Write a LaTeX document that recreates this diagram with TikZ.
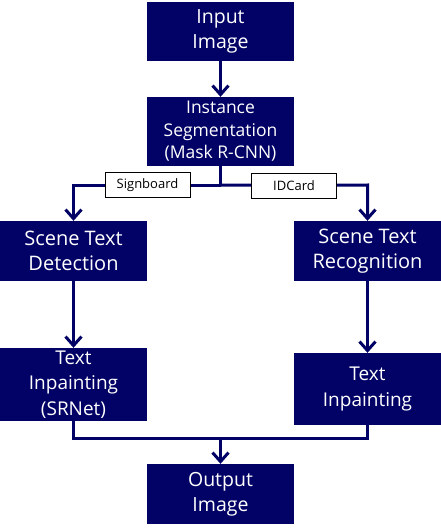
\documentclass[tikz,border=0pt]{standalone}
\usepackage{fontspec}
\setmainfont{Open Sans}
\usetikzlibrary{arrows.meta}
\definecolor{boxnavy}{RGB}{2,2,102}

\begin{document}
\begin{tikzpicture}[x=1pt, y=-1pt]
    \tikzstyle{stage} = [rectangle, minimum width=147pt, minimum height=60pt, inner sep=0pt, align=center, fill=boxnavy, text=white, font=\fontsize{19.5}{25}\selectfont]
    \tikzstyle{tag} = [rectangle, minimum width=85pt, minimum height=25pt, inner sep=0pt, draw=black, line width=1pt, fill=white, font=\fontsize{13}{15}\selectfont]
    \tikzstyle{link} = [draw=boxnavy, line width=3pt]
    \tikzstyle{flow} = [link, -{Straight Barb[length=9pt, width=16pt, line width=3pt]}]
    \useasboundingbox (0,0) rectangle (441,532);

    % Pipeline stages
    \node [stage, minimum height=59pt] (input) at (220.5,31.5) {Input\\Image};
    \node [stage, minimum height=69pt, font=\fontsize{17.5}{22.5}\selectfont] (seg) at (220.5,131.5) {Instance\\Segmentation\\(Mask R-CNN)};
    \node [stage, font=\fontsize{20}{25}\selectfont] (detect) at (73.5,251) {Scene Text\\Detection};
    \node [stage, font=\fontsize{20}{25}\selectfont] (recog) at (367.5,251) {Scene Text\\Recognition};
    \node [stage, minimum height=73pt, font=\fontsize{19}{25.5}\selectfont] (inpaintl) at (73.5,384.5) {Text\\Inpainting\\(SRNet)};
    \node [stage, minimum height=72pt, font=\fontsize{19}{25.5}\selectfont] (inpaintr) at (367.5,389) {Text\\Inpainting};
    \node [stage] (output) at (220.5,494) {Output\\Image};

    % Class labels
    \node [tag] (sign) at (147.5,185) {Signboard};
    \node [tag] (idcard) at (294,185.5) {IDCard};

    % Junctions
    \coordinate (split) at (220.5,185);
    \coordinate (turnl) at (73.5,185);
    \coordinate (turnr) at (367.5,185);
    \coordinate (mergel) at (73.5,438);
    \coordinate (merger) at (367.5,438);
    \coordinate (merge) at (220.5,438);

    % Arrows
    \draw [flow] (input) -- (seg);
    \draw [link] (seg) -- (split);
    \draw [link] (split) -- (sign);
    \draw [link] (split) -- (idcard);
    \draw [flow] (sign) -- (turnl) -- (detect);
    \draw [flow] (idcard) -- (turnr) -- (recog);
    \draw [flow] (detect) -- (inpaintl);
    \draw [flow] (recog) -- (inpaintr);
    \draw [link] (inpaintl) -- (mergel) -- (merger) -- (inpaintr);
    \draw [flow] (merge) -- (output);
\end{tikzpicture}
\end{document}
